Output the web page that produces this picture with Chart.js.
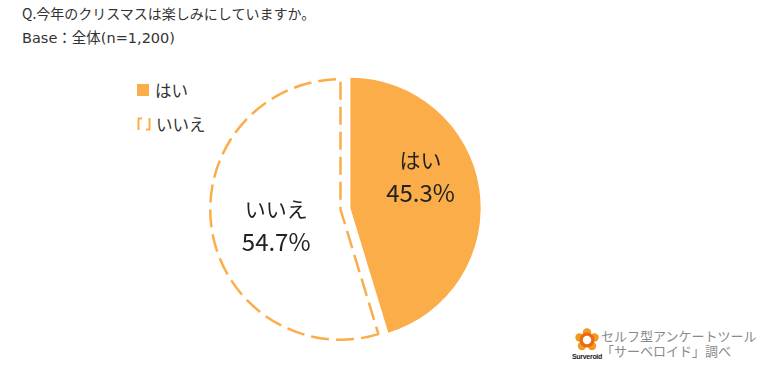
<!DOCTYPE html>
<html>
<head>
<meta charset="utf-8">
<script src="https://cdn.jsdelivr.net/npm/chart.js@4.4.0/dist/chart.umd.min.js"></script>
<style>
  body { margin:0; width:776px; height:367px; background:#fff; position:relative; overflow:hidden;
         font-family:"Noto Sans CJK JP","Noto Sans",sans-serif; color:#333; }
  .t { position:absolute; left:22px; font-size:14px; white-space:nowrap; }
  #wrap { position:absolute; left:197px; top:66px; width:287px; height:287px; }
  .lg { position:absolute; left:137px; font-size:16.5px; color:#333; display:flex; align-items:center; }
  .credit { position:absolute; left:601px; top:328px; font-size:13px; color:#8a8a8a; line-height:15px; }
</style>
</head>
<body>
<div class="t" style="top:3px">Q.今年のクリスマスは楽しみにしていますか。</div>
<div class="t" style="top:26px; font-family:'DejaVu Sans','Noto Sans CJK JP'; font-size:14.5px">Base：全体(n=1,200)</div>
<div id="legend"></div>
<div id="wrap"><canvas id="PieChart"></canvas></div>
<svg style="position:absolute;left:569px;top:328px" width="36" height="34" viewBox="0 0 36 34">
  <g fill="#f39a1e">
    <circle cx="18" cy="4.5" r="4.2"/><circle cx="25.5" cy="9.5" r="4.2"/><circle cx="23" cy="18" r="4.2"/>
    <circle cx="13" cy="18" r="4.2"/><circle cx="10.5" cy="9.5" r="4.2"/>
  </g>
  <circle cx="18" cy="12" r="7.5" fill="#ea6a12"/>
  <circle cx="18" cy="12" r="4.2" fill="#fff"/>
  <text x="18" y="31" font-size="7" text-anchor="middle" fill="#222" font-family="Liberation Sans" font-weight="bold" letter-spacing="-0.3">Surveroid</text>
</svg>
<div class="credit">セルフ型アンケートツール<br>「サーベロイド」調べ</div>
<script>
var labels = ['はい', 'いいえ'];
var values = [45.3, 54.7];
var pctText = ['45.3%', '54.7%'];

var orange = '#fbad4a';
// how far each slice is pulled out of the pie, px
var explode = [10, 0];

// legend
var lg = document.getElementById('legend');
lg.innerHTML =
  '<div class="lg" style="top:78px"><span style="display:inline-block;width:12px;height:12px;background:' + orange + ';margin-right:6px"></span>' + labels[0] + '</div>' +
  '<div class="lg" style="top:112px"><svg width="14" height="14" style="margin-right:5px"><path d="M1.5 13 V1.5 H5 M9 12.5 H12.5 V1" fill="none" stroke="' + orange + '" stroke-width="2"/></svg>' + labels[1] + '</div>';

// label placement inside slices (fraction of radius, angle shift in deg)
var labelPos = [{r: 0.59, a: -15.7}, {r: 0.51, a: -6}];

const explodeSlices = {
  id: 'explodeSlices',
  afterDatasetsUpdate(chart) {
    chart.getDatasetMeta(0).data.forEach(function (arc, i) {
      const mid = (arc.startAngle + arc.endAngle) / 2;
      arc.x += Math.cos(mid) * explode[i];
      arc.y += Math.sin(mid) * explode[i];
    });
  }
};

const sliceLabels = {
  id: 'sliceLabels',
  afterDatasetsDraw(chart) {
    const ctx = chart.ctx;
    chart.getDatasetMeta(0).data.forEach(function (arc, i) {
      const mid = (arc.startAngle + arc.endAngle) / 2;
      const a = mid + labelPos[i].a * Math.PI / 180;
      const rr = arc.outerRadius * labelPos[i].r;
      const x = arc.x + Math.cos(a) * rr;
      const y = arc.y + Math.sin(a) * rr;
      ctx.save();
      ctx.fillStyle = '#222';
      ctx.textAlign = 'center';
      ctx.textBaseline = 'middle';
      ctx.font = '21px "Noto Sans CJK JP"';
      ctx.fillText(labels[i], x, y - 17);
      ctx.font = '24px "Noto Sans CJK JP"';
      ctx.fillText(pctText[i], x, y + 16);
      ctx.restore();
    });
  }
};

new Chart('PieChart', {
  type: 'pie',
  data: {
    labels: labels,
    datasets: [{
      data: values,
      backgroundColor: [orange, '#ffffff'],
      borderColor: [orange, orange],
      borderWidth: [0, 2.5],
      borderDash: [18, 7],
      hoverOffset: 0,
      clip: false
    }]
  },
  options: {
    responsive: true,
    maintainAspectRatio: false,
    animation: false,
    events: [],
    layout: { padding: 12 },
    plugins: { legend: { display: false }, tooltip: { enabled: false } }
  },
  plugins: [explodeSlices, sliceLabels]
});
</script>
</body>
</html>
